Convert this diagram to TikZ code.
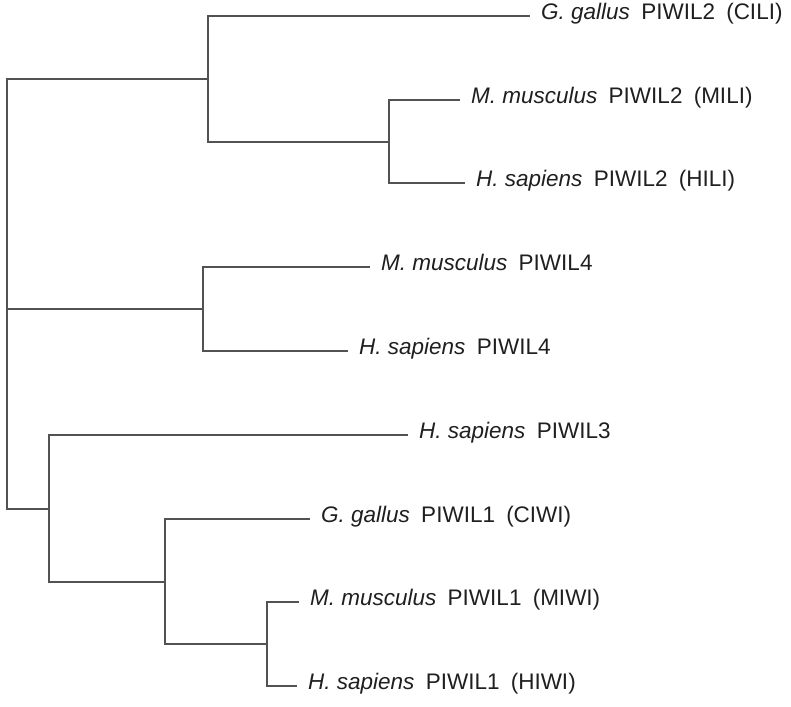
\documentclass[tikz,border=0pt]{standalone}
\usepackage{fontspec}
\setmainfont{Liberation Sans}
\usepackage{tikz}

\begin{document}
\begin{tikzpicture}[x=1pt,y=-1pt,
  branch/.style={draw=black!68,line width=1.7pt},
  leaf/.style={anchor=west,inner xsep=11pt,inner ysep=0pt,text height=0.716em,text depth=0pt,
    text=black!88,font=\fontsize{22.5}{27}\selectfont}]
\useasboundingbox (0,0) rectangle (791,706);

% leaves
\node[leaf] (cili) at (530,16) {\textit{G. gallus}\enspace PIWIL2\enspace(CILI)};
\node[leaf] (mili) at (460,100) {\textit{M. musculus}\enspace PIWIL2\enspace(MILI)};
\node[leaf] (hili) at (465,183) {\textit{H. sapiens}\enspace PIWIL2\enspace(HILI)};
\node[leaf] (mpiwil4) at (370,267) {\textit{M. musculus}\enspace PIWIL4};
\node[leaf] (hpiwil4) at (348,351) {\textit{H. sapiens}\enspace PIWIL4};
\node[leaf] (piwil3) at (408,435) {\textit{H. sapiens}\enspace PIWIL3};
\node[leaf] (ciwi) at (310,519) {\textit{G. gallus}\enspace PIWIL1\enspace(CIWI)};
\node[leaf] (miwi) at (299,602) {\textit{M. musculus}\enspace PIWIL1\enspace(MIWI)};
\node[leaf] (hiwi) at (297,686) {\textit{H. sapiens}\enspace PIWIL1\enspace(HIWI)};

% inner nodes
\coordinate (root) at (7,309);
\coordinate (ili) at (208,79);
\coordinate (ilimh) at (389,142);
\coordinate (l4) at (203,309);
\coordinate (iwi) at (49,509);
\coordinate (iwi1) at (165,582);
\coordinate (iwimh) at (267,644);

\draw[branch] (root) |- (ili);
\draw[branch] (root) |- (l4);
\draw[branch] (root) |- (iwi);

\draw[branch] (ili) |- (cili);
\draw[branch] (ili) |- (ilimh);
\draw[branch] (ilimh) |- (mili);
\draw[branch] (ilimh) |- (hili);

\draw[branch] (l4) |- (mpiwil4);
\draw[branch] (l4) |- (hpiwil4);

\draw[branch] (iwi) |- (piwil3);
\draw[branch] (iwi) |- (iwi1);
\draw[branch] (iwi1) |- (ciwi);
\draw[branch] (iwi1) |- (iwimh);
\draw[branch] (iwimh) |- (miwi);
\draw[branch] (iwimh) |- (hiwi);
\end{tikzpicture}
\end{document}
